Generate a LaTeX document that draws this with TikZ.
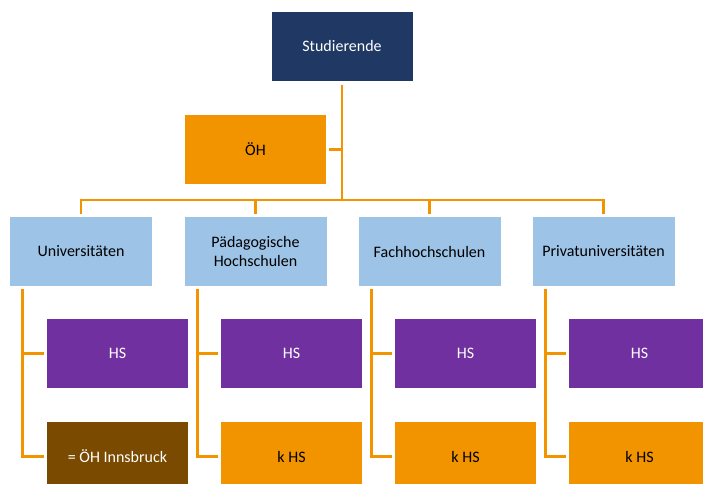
\documentclass[tikz,border=0pt]{standalone}
\usepackage{fontspec}
\setmainfont{Carlito}
\definecolor{navy}{HTML}{1F3864}
\definecolor{lblue}{HTML}{9DC3E6}
\definecolor{orng}{HTML}{F29400}
\definecolor{purp}{HTML}{7030A0}
\definecolor{brwn}{HTML}{7A4A00}
\begin{document}
\begin{tikzpicture}[x=1pt,y=1pt,
  box/.style={minimum width=141pt,minimum height=69pt,inner sep=0pt,align=center,
    font=\fontsize{16}{18.5}\selectfont},
  topbox/.style={box,fill=navy,text=white},
  lvlbox/.style={box,fill=lblue,text=black,minimum width=142pt},
  hsbox/.style={box,fill=purp,text=white},
  khsbox/.style={box,fill=orng,text=black},
  brbox/.style={box,fill=brwn,text=white},
  oehbox/.style={box,fill=orng,text=black},
  conn/.style={draw=orng,line width=2.8pt}]
\useasboundingbox (0,0) rectangle (703,-483);
\begin{scope}
\clip (0,0) rectangle (703,-483);
\node[topbox] (stud) at (342,-46) {Studierende};
\node[oehbox] (oeh) at (255.5,-149.5) {ÖH};
\node[lvlbox] (uni) at (81,-251.5) {Universitäten};
\node[lvlbox] (paed) at (255.5,-251.5) {Pädagogische\\Hochschulen};
\node[lvlbox] (fach) at (429.5,-251.5) {Fachhochschulen};
\node[lvlbox] (priv) at (603.5,-251.5) {Privatuniversitäten};
\node[hsbox] (hs1) at (117.5,-353.5) {HS};
\node[hsbox] (hs2) at (291.5,-353.5) {HS};
\node[hsbox] (hs3) at (465.5,-353.5) {HS};
\node[hsbox] (hs4) at (639.5,-353.5) {HS};
\node[brbox] (k1) at (117.5,-456.5) {= ÖH Innsbruck};
\node[khsbox] (k2) at (291.5,-456.5) {k HS};
\node[khsbox] (k3) at (465.5,-456.5) {k HS};
\node[khsbox] (k4) at (639.5,-456.5) {k HS};
\end{scope}
\coordinate (bus) at (342,-200);
\draw[conn] ([yshift=-4pt]stud.south) -- (bus);
\draw[conn] ([xshift=3pt]oeh.east) -- (oeh.east -| bus);
\draw[conn] ([yshift=3pt]uni.north) |- (bus) -| ([yshift=3pt]priv.north);
\draw[conn] ([yshift=3pt]paed.north) -- (paed.north |- bus);
\draw[conn] ([yshift=3pt]fach.north) -- (fach.north |- bus);
\foreach \p/\a/\b in {uni/hs1/k1,paed/hs2/k2,fach/hs3/k3,priv/hs4/k4}{
  \draw[conn] ([xshift=13pt,yshift=-3pt]\p.south west) |- ([xshift=-3pt]\a.west);
  \draw[conn] ([xshift=13pt,yshift=-3pt]\p.south west) |- ([xshift=-3pt]\b.west);
}
\end{tikzpicture}
\end{document}
